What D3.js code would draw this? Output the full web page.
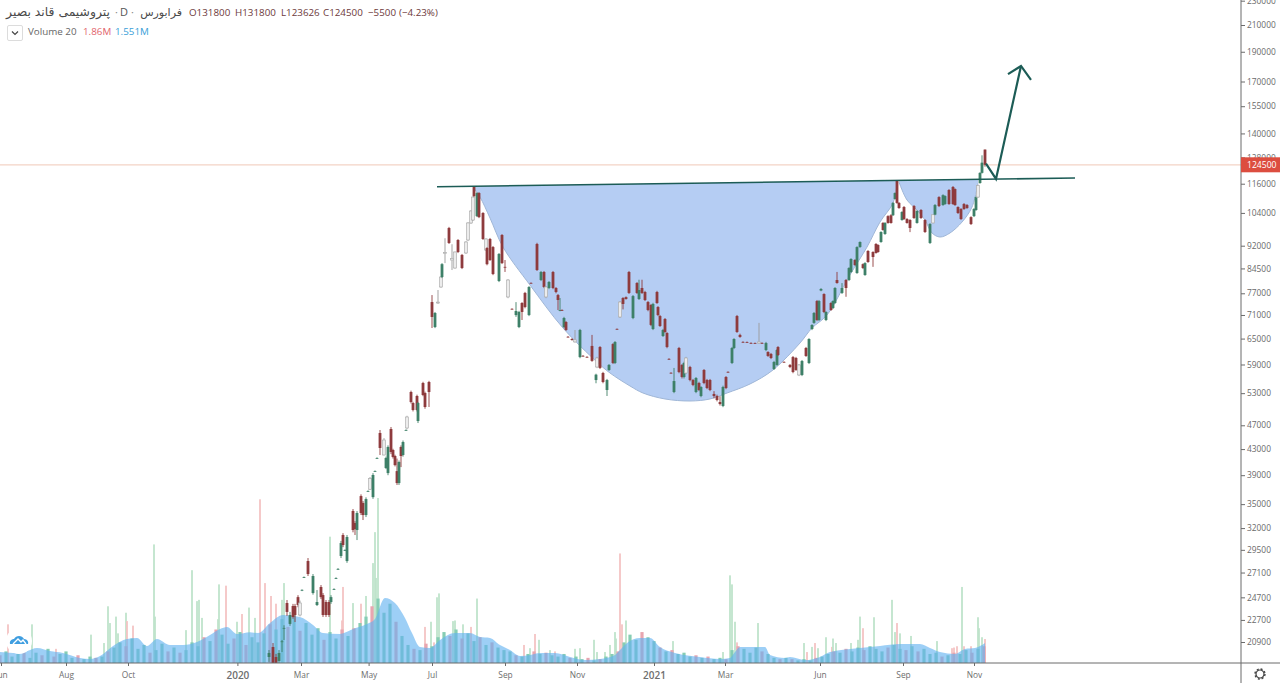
<!DOCTYPE html>
<html><head><meta charset="utf-8">
<style>
html,body{margin:0;padding:0;background:#fff;overflow:hidden}
svg{display:block}
text{font-family:"Open Sans","Noto Sans",sans-serif}
</style>
<script src="https://cdn.jsdelivr.net/npm/d3@7"></script>
</head><body><svg id="c" width="1280" height="691"></svg>
<script>
const candleSession=[134.5,136.5,138,139.5,141,142,143.5,145,146.5,147.5,149,150,151,152,154,156.5,158.5,160.5,161.5,163,164.5,165.5,167,168,169,170.5,171.5,172.5,173.5,176.5,177.5,178.5,180.5,181.5,183,184,185,186.5,187.5,188.5,190,192,193,194,195.5,196.5,197.5,198.5,199.5,200.5,201.5,203,203.5,205.5,206.5,208.5,209,211.5,212.5,214.5,
216,217.5,219,220.5,221,222.5,224.5,226,227.5,229,231,233,234,235.5,236.5,237,238.5,239.5,241.5,243,243.5,245,246.5,249.5,251,252.5,254,256,258,259.5,261,262.5,264.5,265.5,268.5,270.5,272,273,274.5,276.5,278,279,280,281,282,283,284,286,287.5,290,291.5,293.5,296,298.5,298,300,301.5,303.5,304.5,306.5,307.5,308.5,
310,311.5,313,314.5,316.5,318.5,319.5,321,322.5,324,325.5,326.5,328.5,329,330,331.5,332.5,333.5,334.5,335.5,337,339.5,341,342,343,345,346.5,348,349.5,350.5,352,353.5,355,357,358.5,360,361.5,363,364,366,367,368.5,370,371.5,373.5,375.5,377.5,379.5,381,383,384,385.5,387,388.5,389,392,395,396.5,398,399.5,401,403,404.5,
406,407,408.5,409.5,410.5,412,413,415.5,416.5,417.5,418.5,421,423,424.5,425.5,427.5,428.5,430,431.5,432.5,434,436.5,438,439,440.5,441.5,442.5,444,445.5,446.5,447.5,448.5,449.5,451,452,453.5,455,457,458.5,460.5,462.5,465,466.5,467.5,469.5,471.5,472.5,474.5,476.5,477.5,479,480.5,482,483.5,485.5,487,488,489,490,491,492.5];
const candleOpen=[19760,20510,19760,19470,20900,22000,24180,22360,23910,23910,24720,23120,25350,26600,28290,25100,24000,25670,24910,24270,24270,24270,25450,26500,27420,28830,31180,29450,28290,34110,32610,31770,36070,35150,33600,36720,37000,35930,39560,41550,45670,42060,40060,39310,46350,42850,41900,39600,37870,43340,42060,46140,46530,53230,51080,52440,47760,55050,53030,55260,
74520,67870,74250,78830,81830,89500,98280,87200,84630,93980,88870,89530,93980,100160,101270,114580,102750,112020,103970,90530,91200,94330,91530,80620,95750,85000,75950,72650,70980,67870,74250,77100,70980,80050,92590,80920,83380,75950,78540,83380,78540,76490,72100,72350,67870,69160,65450,64900,64200,60660,60950,60700,63240,58450,55670,62980,57150,53630,57800,63680,59330,67400,
70470,75650,75900,83380,70200,80020,75370,78540,77370,74520,73700,67370,77370,73140,70720,65630,69940,66370,60250,57200,53230,62750,58900,56300,57150,58450,55670,53230,55050,52440,57800,55670,55670,52840,52440,51270,50520,56300,57400,59330,62750,70720,65900,64200,64130,63950,63930,63900,63950,62280,61820,61370,58020,58900,62980,59580,58900,60660,60450,56730,56730,62750,59330,
67370,68930,74800,69680,77800,76780,69680,74250,72870,74250,80920,77100,80920,80920,83380,87200,83060,91530,85860,82440,90190,89860,92590,92240,93280,100160,96120,102750,103100,103100,109550,117180,107960,101270,106310,101650,101270,106700,100160,105130,101270,92940,100160,103330,110340,107100,107500,113300,114580,113700,106310,105520,107500,107100,102370,102750,105130,110340,116300,120800,131800];
const candleHigh=[20280,20820,19990,20280,21060,22250,24450,23390,24100,24100,24900,24400,25450,26700,28610,26950,25380,25860,25100,24450,24450,24900,25550,26620,27550,30500,31400,29560,31180,34360,32850,34100,36300,35400,35900,36850,38730,39300,39700,41700,46180,44800,41800,43600,46700,43050,42100,41500,41200,43600,44400,46300,48700,53500,51300,52700,51300,55300,53300,55500,
76490,71800,77950,82000,86200,94600,98700,92500,90000,94300,89200,93600,100500,105100,110700,115000,112400,112400,104300,94600,91500,94700,91900,89500,96100,87200,81200,72800,74500,72100,74500,77400,79100,80200,93000,83700,83700,79100,80600,83700,78800,76800,75650,72500,70500,69400,65600,65100,67120,67400,61100,60850,65900,60700,57000,63200,57400,55900,59100,63900,64400,67500,
74800,75900,76100,83700,76500,80300,81000,81000,77700,74800,74000,74300,77700,73400,71000,67400,70200,66600,60400,57300,58240,63000,59100,59600,60700,58700,55900,56300,55300,54400,58000,55900,55900,53400,52700,52400,54500,56500,57500,63000,65100,71000,66200,64350,64300,64100,64050,68930,64100,64200,62000,61600,59800,62500,63200,59700,59100,60900,60700,59100,60000,63000,65100,
68600,71800,75100,75100,78500,77000,72000,74500,75000,78800,83400,80000,81200,84900,87800,87500,91800,93500,86100,86500,90500,90100,92900,92500,97100,100500,100500,103100,103500,108300,112300,117600,108300,104700,106700,102000,101600,107100,105100,105500,101600,100100,103300,107500,110700,111500,111100,113700,115000,114000,106600,105900,107900,107500,102700,105900,110700,115600,121100,129000,131800];
const candleLow=[19400,19170,19200,19250,20130,21060,23040,22200,22800,22520,23800,23000,25280,26550,26750,24950,23910,24540,22950,22950,22950,24100,25400,26450,27380,28610,29800,29400,28100,31500,31180,30600,33600,32980,33350,36680,36900,35700,39520,41500,42060,42000,39900,39000,42200,41500,40300,37600,37600,40200,41800,46100,46300,51000,49500,49500,47400,52400,50000,50330,
67620,67600,74000,78600,81500,86200,92600,84000,84400,89500,84300,89200,93600,99800,100900,110300,102400,102000,94000,90200,85500,86900,82400,80300,85900,83400,75600,72500,70500,67600,69680,72800,70700,79900,83700,80600,78500,75600,78200,78200,77000,72330,72000,72100,67600,66900,65300,64500,64000,60400,60800,60600,59600,58200,55000,58000,55000,52440,57600,59100,59100,67250,
70200,72500,75200,76800,69900,76800,75100,76800,74800,72000,68100,67100,74000,70700,67900,65400,66400,62700,60100,57050,53000,57100,56000,56000,56900,55400,54400,53000,53400,52200,54800,53800,53400,52000,51400,50600,50300,53800,57250,59100,62500,66400,65200,64050,64000,63800,63800,63700,63800,62000,60700,60200,57800,58700,60900,59450,58200,57100,57600,56500,56500,60700,59100,
67100,68700,69400,69400,77600,71500,69400,72100,72600,74000,79800,76800,76000,80600,83100,85300,82800,91300,84300,82200,86300,85000,89300,89600,93000,97300,95800,99900,99900,102800,109300,107600,105600,101000,101300,99900,96800,101700,99900,101700,96500,92600,100000,103100,106300,106800,107200,107200,107200,106800,103600,101300,105200,105600,99400,102400,104800,110000,116000,120500,123626];
const candleClose=[20060,19320,19320,20060,20950,22030,23390,23120,22950,23120,24000,24180,25400,26650,26950,26750,24270,24720,23120,23120,23120,24720,25480,26550,27470,30260,30040,29480,30950,31770,31890,33860,33860,33600,35670,36760,38500,39030,39600,41590,43180,44480,41590,43340,42530,41740,40500,37870,40970,41900,44150,46180,48480,51270,49770,49770,51080,52640,50330,53230,
70470,71530,74500,81830,85860,89700,92940,87700,89860,89860,84630,93280,100160,104740,110360,110760,112020,102370,94330,94330,85860,87200,82750,89200,86210,84900,80920,72600,72060,71800,71800,73140,78830,80020,84000,83380,78830,78830,80320,78540,77370,75090,72330,72300,70200,67120,65400,64660,64700,67120,60900,60660,59800,60450,56800,58240,55260,55670,58900,59330,64170,67370,
74520,73980,75370,77100,76200,77100,77950,77100,75090,72330,68410,73980,74250,70980,68130,67120,66620,62980,60220,57150,55460,57360,56300,59330,60450,55670,54650,56090,53630,54240,55050,54030,53630,52440,51660,50890,54240,54030,57360,62750,64900,66620,65400,64170,64100,63930,63900,64200,63930,63930,60910,60450,59550,62280,61140,59550,58450,57360,57800,58900,59770,60910,64900,
68390,71530,69680,74800,78250,71800,71800,72330,74800,78540,80020,78540,78540,84630,87530,85580,91530,93280,84630,86210,86550,88200,89530,89860,96830,97560,100160,100160,100160,107960,112020,107960,105910,104350,101650,100160,98300,102030,104740,102030,96830,99760,103300,107100,106700,111140,110760,107500,107500,107100,103970,101650,105520,105910,99760,105520,110340,115200,120800,125500,124500];
const hollowSessions=[150,185,192,203.5,219,220.5,222.5,226,227.5,233,234,235.5,236.5,243,254,273,287.5,298.5,310,343,379.5,399.5,466.5,489];

const spikeSession=[4,16,28,45.5,52,54,55,58,59,63,63.5,66.5,77,77.5,93,96,98.5,99.5,101,109,109.5,113,118.5,121,124.5,127.5,130,132.5,135.5,138,141,142,165,171,171.5,176.5,180.5,183,186.5,187.5,188,189,212.5,215.5,217,218.5,219.5,226.5,227.5,231.5,235.5,238.5,
262,265,267.5,269.5,275,277.5,287.5,290,297,298.5,302.5,305,307.5,308,310,311,313,336.5,361.5,365,366,367.5,368.5,379,402,403.5,406,407.5,409,413,416,416.5,418,425.5,429,430,431.5,437,446,447.5,448.5,450,455.5,468.5,476,477,478.5,481,482,485.5,489,489.5,491,492.5];
const spikeVolume=[3,3,1.1,2.2,1.55,4.4,3.1,3.6,2.3,3.9,3.25,2.9,9.2,3.6,2.55,7.2,4.8,4.9,3.5,3.4,6.1,6,3.2,3.8,4.3,3.5,12.7,6.2,5.2,4.6,4.9,6.2,9.8,3.3,5.9,4.65,4.6,5.2,7.75,10.15,6.6,12.8,2.8,3.2,1.6,5.1,5.4,3.25,3.3,3,2.8,5,
1.4,1.15,2.25,1.8,1,0.9,1.1,1.15,1.8,0.85,0.85,1.4,2.4,1.9,8.5,3,3.3,1.7,0.85,6.8,6.1,3.2,1.6,3.1,1.55,0.85,1.25,1.55,1.15,2,1.25,1.9,1.55,1.55,1.8,3.6,2.7,3.55,4.9,2.4,3.1,2.3,2.1,1.7,1.15,1.2,1.3,5.9,1.3,1.3,3.55,2.7,2,1.86];
const spikeRed=[4,28,63.5,66.5,113,121,130,132.5,135.5,138,171,171.5,180.5,212.5,217,235.5,262,267.5,277.5,310,311,368.5,403.5,407.5,416,431.5,448.5,476,477,478.5,482,485.5,492.5];

const fillVolume=[.6,.9,.5,.7,1,.4,.8,.6,1.1,.5,.7,.9,.4,.6,.3,.5,.4,
.5,.9,1.2,1.6,1.3,1.9,1.1,1.4,.8,1,1.5,.9,1.2,.8,
1,1.6,1.3,2,1.7,2.6,2.2,1.5,1.9,2.4,1.4,2,1.6,
2.3,3,2.6,3.4,2.8,3.7,2.5,3.1,2.2,2.7,1.8,2.4,1.9,2.6,2.1,
2.7,3.1,3.6,4.4,5,3.9,4.6,3.2,2.1,1.4,1.1,
1,1.5,1.3,2,2.4,2.1,2.6,1.9,2.3,1.7,2,1.4,1.6,1.2,
1,.9,.6,.5,.7,.9,.7,.8,.6,.5,.7,.4,.5,.3,.4,.2,.3,
.5,.7,.9,1.6,2.2,1.8,2.4,2,1.7,1.2,
.9,1,.7,.8,.5,.6,.4,.5,.3,.4,.3,
1,1.3,1.1,.8,1.2,.9,.7,
.4,.3,.4,.3,.2,.3,.2,.4,.5,
.7,.9,.8,1.1,.9,1.2,1,1.3,1.1,.9,1.2,1.4,1.1,
1,1.3,.9,1.1,.7,.8,.5,.6,.8,.7,1,.8,1.1,1.3];
const fillDirection="rgggrggrgrgggrggrgrggrgggrggrgrgggrgrggrg";

const maSession=[0,6.5,13.5,18.5,25,31.5,40,45,50,56.5,63.5,68.5,73.5,78.5,85,91.5,98.5,105,110,113.5,118.5,125,129,135,141.5,150,156.5,161.5,170,176.5,183.5,187.5,192.5,197.5,202.5,206,210,215,220,227.5,235,240,245,250,255,260,265,270,277.5,285,292.5,300,307.5,310,313.5,320,325,330,337.5,350,360,365,367.5,370,382.5,385,392.5,395,402.5,410,415,430,440,450,460,465,470,477.5,482.5,487.5,492.5];
const maVolume=[.85,.78,.93,1.16,.93,.78,.39,.31,.54,1.32,1.86,1.94,1.32,1.86,1.39,1.39,1.63,2.17,2.63,2.79,2.25,2.39,2.32,3.1,3.72,3.56,2.94,2.32,2.25,2.63,3.02,3.41,5.05,4.65,3.49,2.32,1.24,1.16,1.78,2.32,2.32,2.01,1.94,1.39,1.01,.54,.62,.78,.78,.47,.23,.31,.62,1.01,1.55,1.94,1.94,1.24,.78,.47,.31,.39,.85,1.24,1.24,.62,.39,.47,.23,.47,.85,1.16,1.32,1.47,1.47,1.16,.85,.7,1.09,1.16,1.55];

const cupSession=[237,240,245,251.5,265,281.5,298.5,305,315,321.5,332.5,345,355,363.5,375,386.5,400,406,413.5,425,433.5,440,446.5,448.75];
const cupPrice=[114000,110360,102030,91530,79400,67620,59550,57150,54440,53030,51860,51470,51860,53030,54850,57800,63930,67620,71000,82500,91530,100500,107960,117180];
const handleSession=[449.5,453.5,458.5,462.5,466,470,475,481,486,489];
const handlePrice=[116700,109140,105130,101270,96480,95030,96480,100500,106310,116300];
const resistanceSession=[218.5,537.5], resistancePrice=[114700,118500];
const arrowSession=[493,498,510.5], arrowPrice=[125000,118100,180160];
const arrowHeadSession=[504,510.5,515.5], arrowHeadPrice=[174800,180160,170970];

const priceTicks=[230000,210000,190000,170000,155000,140000,128000,116000,104000,92000,84500,77000,71000,65000,59000,53000,47000,43000,39000,35000,32000,29500,27100,24700,22700,20900];
const lastPrice=124500;
const timeLabels=["Jun","Aug","Oct","2020","Mar","May","Jul","Sep","Nov","2021","Mar","Jun","Sep","Nov"];
const timeSessions=[.5,33,64,118.7,150.5,184.3,216,252.5,288.5,327,362.5,410,451.5,487];

const svg=d3.select("#c");
const xS=d3.scaleLinear().domain([0,640]).range([0,1280]);
const yP=d3.scaleLog().domain([20900,210000]).range([642,25]);
const yV=d3.scaleLinear().domain([0,12.8]).range([663,498]);
const C={red:"#8e3a3c",green:"#3e8068",volR:"#f4c4c4",volG:"#bfe4cb",fillR:"#e8a6b0",fillG:"#86cdb4",ma:"rgba(98,178,240,.62)",cup:"#b5cdf3",cupEdge:"#9fb6d6",line:"#1c5c56",grid:"#6b6b6b"};

const defs=svg.append("defs");
defs.append("clipPath").attr("id","pane").append("rect").attr("x",0).attr("y",0).attr("width",1241).attr("height",663);
defs.append("filter").attr("id","soft").append("feGaussianBlur").attr("stdDeviation",.4);

const pane=svg.append("g").attr("clip-path","url(#pane)").append("g").attr("filter","url(#soft)");

pane.append("line").attr("x1",0).attr("x2",1241).attr("y1",yP(lastPrice)).attr("y2",yP(lastPrice)).attr("stroke","#f3d3c6").attr("stroke-width",1.2);

// cup and handle: closed against the resistance line
const rLine=d3.scaleLinear().domain(resistanceSession).range(resistancePrice);
const curve=d3.line().x(d=>xS(d[0])).y(d=>yP(d[1])).curve(d3.curveCatmullRom);
function blob(ss,ps){
  const n=ss.length-1;
  const d=curve(ss.map((s,i)=>[s,ps[i]]));
  pane.append("path").attr("fill",C.cup)
    .attr("d",d+"L"+xS(ss[n])+","+yP(rLine(ss[n]))+"L"+xS(ss[0])+","+yP(rLine(ss[0]))+"Z");
  pane.append("path").attr("d",d).attr("fill","none").attr("stroke",C.cupEdge).attr("stroke-width",1);
}
blob(cupSession,cupPrice);
blob(handleSession,handlePrice);

// volume bars
const volBars=pane.append("g");
spikeSession.forEach((s,i)=>{
  const v=spikeVolume[i], red=spikeRed.includes(s);
  volBars.append("rect").attr("x",xS(s)-.9).attr("width",1.8).attr("y",yV(v)).attr("height",yV(0)-yV(v)).attr("fill",red?C.volR:C.volG);
});
fillVolume.forEach((v,i)=>{
  const s=i*3;
  const red=fillDirection[i%fillDirection.length]==="r";
  volBars.append("rect").attr("x",xS(s)-1.6).attr("width",3.2).attr("y",yV(v)).attr("height",yV(0)-yV(v)).attr("fill",red?C.fillR:C.fillG);
});
pane.append("path").datum(maSession.map((s,i)=>[s,maVolume[i]]))
  .attr("d",d3.area().x(d=>xS(d[0])).y0(yV(0)).y1(d=>yV(d[1])).curve(d3.curveMonotoneX)).attr("fill",C.ma);

// candles
const cg=pane.append("g");
candleSession.forEach((s,i)=>{
  const o=candleOpen[i],h=candleHigh[i],l=candleLow[i],c=candleClose[i];
  const hollow=hollowSessions.includes(s);
  const col=hollow?"#9b9b9b":(c<o?C.red:C.green);
  const x=xS(s);
  cg.append("line").attr("x1",x).attr("x2",x).attr("y1",yP(h)).attr("y2",yP(l)).attr("stroke",col).attr("stroke-width",.9);
  const top=yP(Math.max(o,c)),bot=yP(Math.min(o,c));
  cg.append("rect").attr("x",x-1.4).attr("width",2.8).attr("y",top).attr("height",Math.max(.8,bot-top))
    .attr("fill",hollow?"#ececec":col).attr("stroke",hollow?"#b0b0b0":"none").attr("stroke-width",.7);
});

// trend annotations
const tl=d3.line().x(d=>xS(d[0])).y(d=>yP(d[1]));
pane.append("path").attr("d",tl(resistanceSession.map((s,i)=>[s,resistancePrice[i]]))).attr("fill","none").attr("stroke",C.line).attr("stroke-width",1.6);
pane.append("path").attr("d",tl(arrowSession.map((s,i)=>[s,arrowPrice[i]]))).attr("fill","none").attr("stroke",C.line).attr("stroke-width",2.2);
pane.append("path").attr("d",tl(arrowHeadSession.map((s,i)=>[s,arrowHeadPrice[i]]))).attr("fill","none").attr("stroke",C.line).attr("stroke-width",2.2);

// axes
const frame=svg.append("g");
const yAxis=d3.axisRight(yP).tickValues(priceTicks).tickFormat(d3.format("d")).tickSize(4).tickPadding(2);
const ya=frame.append("g").attr("transform","translate(1241,0)").call(yAxis);
ya.select(".domain").remove();
ya.selectAll("line").attr("stroke",C.grid);
ya.selectAll("text").attr("fill","#6a6a6a").style("font-size","8.4px").style("font-family",'"Open Sans",sans-serif');
frame.append("line").attr("x1",1241).attr("x2",1241).attr("y1",0).attr("y2",683).attr("stroke",C.grid);
frame.append("line").attr("x1",0).attr("x2",1280).attr("y1",663).attr("y2",663).attr("stroke",C.grid);
const xAxis=d3.axisBottom(xS).tickValues(timeSessions).tickFormat((d,i)=>timeLabels[i]).tickSize(3).tickPadding(6);
const xa=frame.append("g").attr("transform","translate(0,663)").call(xAxis);
xa.select(".domain").remove();
xa.selectAll("line").attr("stroke",C.grid);
xa.selectAll("text").attr("fill","#6e6e6e").style("font-size","8.4px").style("font-family",'"Open Sans",sans-serif');
xa.selectAll(".tick text").each(function(d,i){ if(/^20/.test(timeLabels[i])) d3.select(this).style("font-size","10px").style("font-weight","600"); });

// last price label
frame.append("rect").attr("x",1241).attr("width",39).attr("y",yP(lastPrice)-7.5).attr("height",15).attr("fill","#dc4d3f");
frame.append("text").attr("x",1247).attr("y",yP(lastPrice)+3).attr("fill","#fff").style("font-size","8.6px").text(lastPrice);

// header
const hdr=svg.append("g");
function t(x,y,s,col,size,fam){
  const e=hdr.append("text").attr("x",x).attr("y",y).attr("fill",col).style("font-size",size+"px").text(s);
  if(fam)e.style("font-family",fam).attr("direction","rtl");
  return e;
}
const fa='"DejaVu Sans",sans-serif';
t(110,16,"پتروشیمی قاند بصیر","#4a4a4a",12.4,fa);
t(115,16,"·","#888",11);
t(120,16,"D","#555",11);
t(131,16,"·","#888",11);
t(182,16,"فرابورس","#4a4a4a",11,fa);
const vals=[[189,"O131800"],[235,"H131800"],[281,"L123626"],[323,"C124500"],[368,"−5500"],[399,"(−4.23%)"]];
vals.forEach(v=>t(v[0],16,v[1],"#6d3a3c",9.8));
hdr.append("rect").attr("x",7.5).attr("y",25.5).attr("width",15).attr("height",15).attr("rx",1.5).attr("fill","#fff").attr("stroke","#dcdcdc");
hdr.append("path").attr("d","M12,31.5L15,34.5L18,31.5").attr("fill","none").attr("stroke","#444").attr("stroke-width",1.2);
t(28,35,"Volume 20","#666",9.8);
t(83,35,"1.86M","#e2626c",9.8);
t(115,35,"1.551M","#3aa0d8",9.8);

// logo
const logo=svg.append("g").attr("transform","translate(19,641)");
logo.append("circle").attr("r",13).attr("fill","#fff");
logo.append("path").attr("d","M-9,3C-10,-1 -6,-2 -5,-2C-3,-6 3,-6 5,-2C8,-2 10,1 9,3Z").attr("fill","#3f9ee0");
logo.append("path").attr("d","M-6,3L-1,-2L2,1L4,-1L7,3").attr("fill","none").attr("stroke","#fff").attr("stroke-width",1.3);

// gear
const gear=svg.append("g").attr("transform","translate(1260,674)");
gear.append("circle").attr("r",4).attr("fill","#fff").attr("stroke","#444").attr("stroke-width",1.2);
gear.append("circle").attr("r",5).attr("fill","none").attr("stroke","#444").attr("stroke-width",1.4).attr("stroke-dasharray","2 1.93");
</script></body></html>
